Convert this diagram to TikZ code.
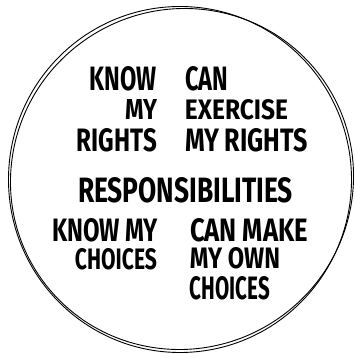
\documentclass[tikz,border=0pt]{standalone}
\usepackage{fontspec}
\setmainfont{Fira Sans}
\usepackage{graphicx}
\newcommand{\hw}[3]{\resizebox{#1pt}{#2pt}{\bfseries #3}}
\begin{document}
\begin{tikzpicture}[x=1pt,y=1pt,
  txt/.style={inner sep=0pt, outer sep=0pt, text=black},
  circ/.style={draw=black, line width=0.9pt}]
\useasboundingbox (0,0) rectangle (355,358);
\fill[white] (0,0) rectangle (355,358);
% hand-drawn double circle
\draw[circ] (180,178.5) ellipse [x radius=171.5, y radius=173];
\draw[circ, rotate around={35:(182,179)}] (182,179) ellipse [x radius=172.5, y radius=169.5];
% top left block
\node[txt] (know1) at (123.5,279) {\hw{67}{24}{KNOW}};
\node[txt] (my1) at (141,248) {\hw{32}{20}{MY}};
\node[txt] (rights1) at (117,218) {\hw{80}{23}{RIGHTS}};
% top right block
\node[txt] (can1) at (206.5,279) {\hw{43}{24}{CAN}};
\node[txt] (exercise) at (236.5,248) {\hw{103}{20}{EXERCISE}};
\node[txt] (myrights) at (246.5,218) {\hw{123}{23}{MY RIGHTS}};
% middle
\node[txt] (resp) at (185.5,168) {\hw{215}{25}{RESPONSIBILITIES}};
% bottom left block
\node[txt] (knowmy) at (105,128) {\hw{106}{23}{KNOW MY}};
\node[txt] (choices1) at (116,99) {\hw{82}{21}{CHOICES}};
% bottom right block
\node[txt] (canmake) at (249,128) {\hw{118}{23}{CAN MAKE}};
\node[txt] (myown) at (235,99.5) {\hw{90}{21}{MY OWN}};
\node[txt] (choices2) at (230,70) {\hw{80}{23}{CHOICES}};
\end{tikzpicture}
\end{document}
